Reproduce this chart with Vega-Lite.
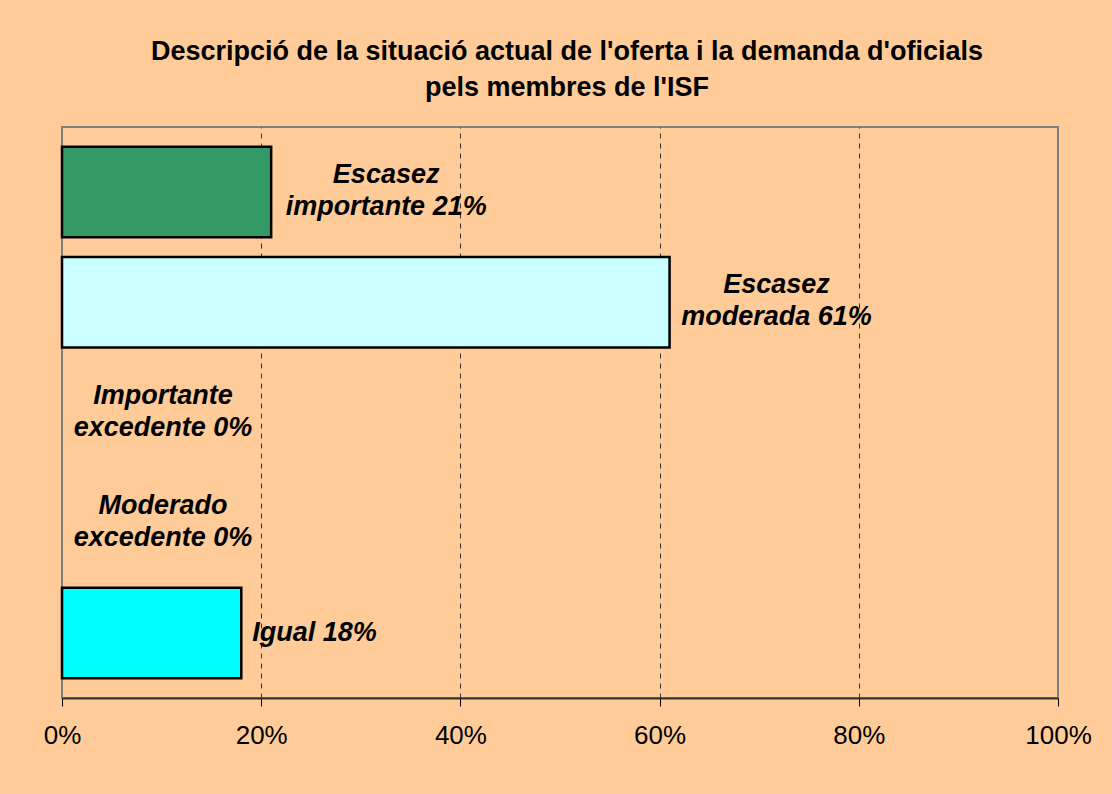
{
  "$schema": "https://vega.github.io/schema/vega-lite/v6.json",
  "width": 996,
  "height": 571,
  "autosize": {"type": "none"},
  "padding": {"left": 62, "top": 127, "right": 54, "bottom": 96},
  "background": "#FFCC99",
  "title": {
    "text": ["Descripció de la situació actual de l'oferta i la demanda d'oficials", "pels membres de l'ISF"],
    "font": "Liberation Sans",
    "fontSize": 27,
    "fontWeight": "bold",
    "color": "#000000",
    "anchor": "middle",
    "frame": "group",
    "lineHeight": 36,
    "offset": 25,
    "dx": 7
  },
  "config": {
    "view": {"stroke": "#808080", "strokeWidth": 2, "fill": null},
    "font": "Liberation Sans"
  },
  "data": {
    "values": [
      {"category": "Escasez importante", "value": 0.21, "label": "Escasez\nimportante 21%"},
      {"category": "Escasez moderada", "value": 0.61, "label": "Escasez\nmoderada 61%"},
      {"category": "Importante excedente", "value": 0, "label": "Importante\nexcedente 0%"},
      {"category": "Moderado excedente", "value": 0, "label": "Moderado\nexcedente 0%"},
      {"category": "Igual", "value": 0.18, "label": "Igual 18%"}
    ]
  },
  "encoding": {
    "y": {
      "field": "category",
      "type": "nominal",
      "sort": ["Escasez importante", "Escasez moderada", "Importante excedente", "Moderado excedente", "Igual"],
      "axis": null,
      "scale": {"paddingInner": 0.18, "paddingOuter": 0.18}
    },
    "x": {
      "field": "value",
      "type": "quantitative",
      "scale": {"domain": [0, 1], "nice": false},
      "axis": {
        "values": [0, 0.2, 0.4, 0.6, 0.8, 1],
        "format": ".0%",
        "title": null,
        "labelFont": "Liberation Sans",
        "labelFontSize": 26,
        "labelColor": "#000000",
        "labelPadding": 16,
        "labelFlush": false,
        "tickColor": "#000000",
        "tickSize": 8,
        "tickWidth": 1,
        "domainColor": "#333333",
        "domainWidth": 2,
        "grid": true,
        "gridColor": "#333333",
        "gridDash": [5, 5],
        "gridWidth": 1,
        "gridOpacity": {"condition": {"test": "datum.value == 0 || datum.value == 1", "value": 0}, "value": 1}
      }
    }
  },
  "layer": [
    {
      "transform": [{"filter": "datum.value > 0"}],
      "mark": {"type": "bar", "stroke": "#000000", "strokeWidth": 2.5},
      "encoding": {
        "color": {
          "field": "category",
          "type": "nominal",
          "scale": {
            "domain": ["Escasez importante", "Escasez moderada", "Igual"],
            "range": ["#339966", "#CCFFFF", "#00FFFF"]
          },
          "legend": null
        }
      }
    },
    {
      "transform": [{"filter": "datum.category == 'Escasez importante'"}],
      "mark": {"type": "text", "font": "Liberation Sans", "fontSize": 27, "fontWeight": "bold", "fontStyle": "italic", "align": "center", "baseline": "middle", "lineHeight": 32, "lineBreak": "\n", "dx": 115, "dy": -17, "color": "#000000"},
      "encoding": {"text": {"field": "label"}}
    },
    {
      "transform": [{"filter": "datum.category == 'Escasez moderada'"}],
      "mark": {"type": "text", "font": "Liberation Sans", "fontSize": 27, "fontWeight": "bold", "fontStyle": "italic", "align": "center", "baseline": "middle", "lineHeight": 32, "lineBreak": "\n", "dx": 107, "dy": -17, "color": "#000000"},
      "encoding": {"text": {"field": "label"}}
    },
    {
      "transform": [{"filter": "datum.category == 'Importante excedente' || datum.category == 'Moderado excedente'"}],
      "mark": {"type": "text", "font": "Liberation Sans", "fontSize": 27, "fontWeight": "bold", "fontStyle": "italic", "align": "center", "baseline": "middle", "lineHeight": 32, "lineBreak": "\n", "dx": 101, "dy": -17, "color": "#000000"},
      "encoding": {"text": {"field": "label"}}
    },
    {
      "transform": [{"filter": "datum.category == 'Igual'"}],
      "mark": {"type": "text", "font": "Liberation Sans", "fontSize": 27, "fontWeight": "bold", "fontStyle": "italic", "align": "left", "baseline": "middle", "lineHeight": 32, "lineBreak": "\n", "dx": 11, "color": "#000000"},
      "encoding": {"text": {"field": "label"}}
    }
  ]
}
